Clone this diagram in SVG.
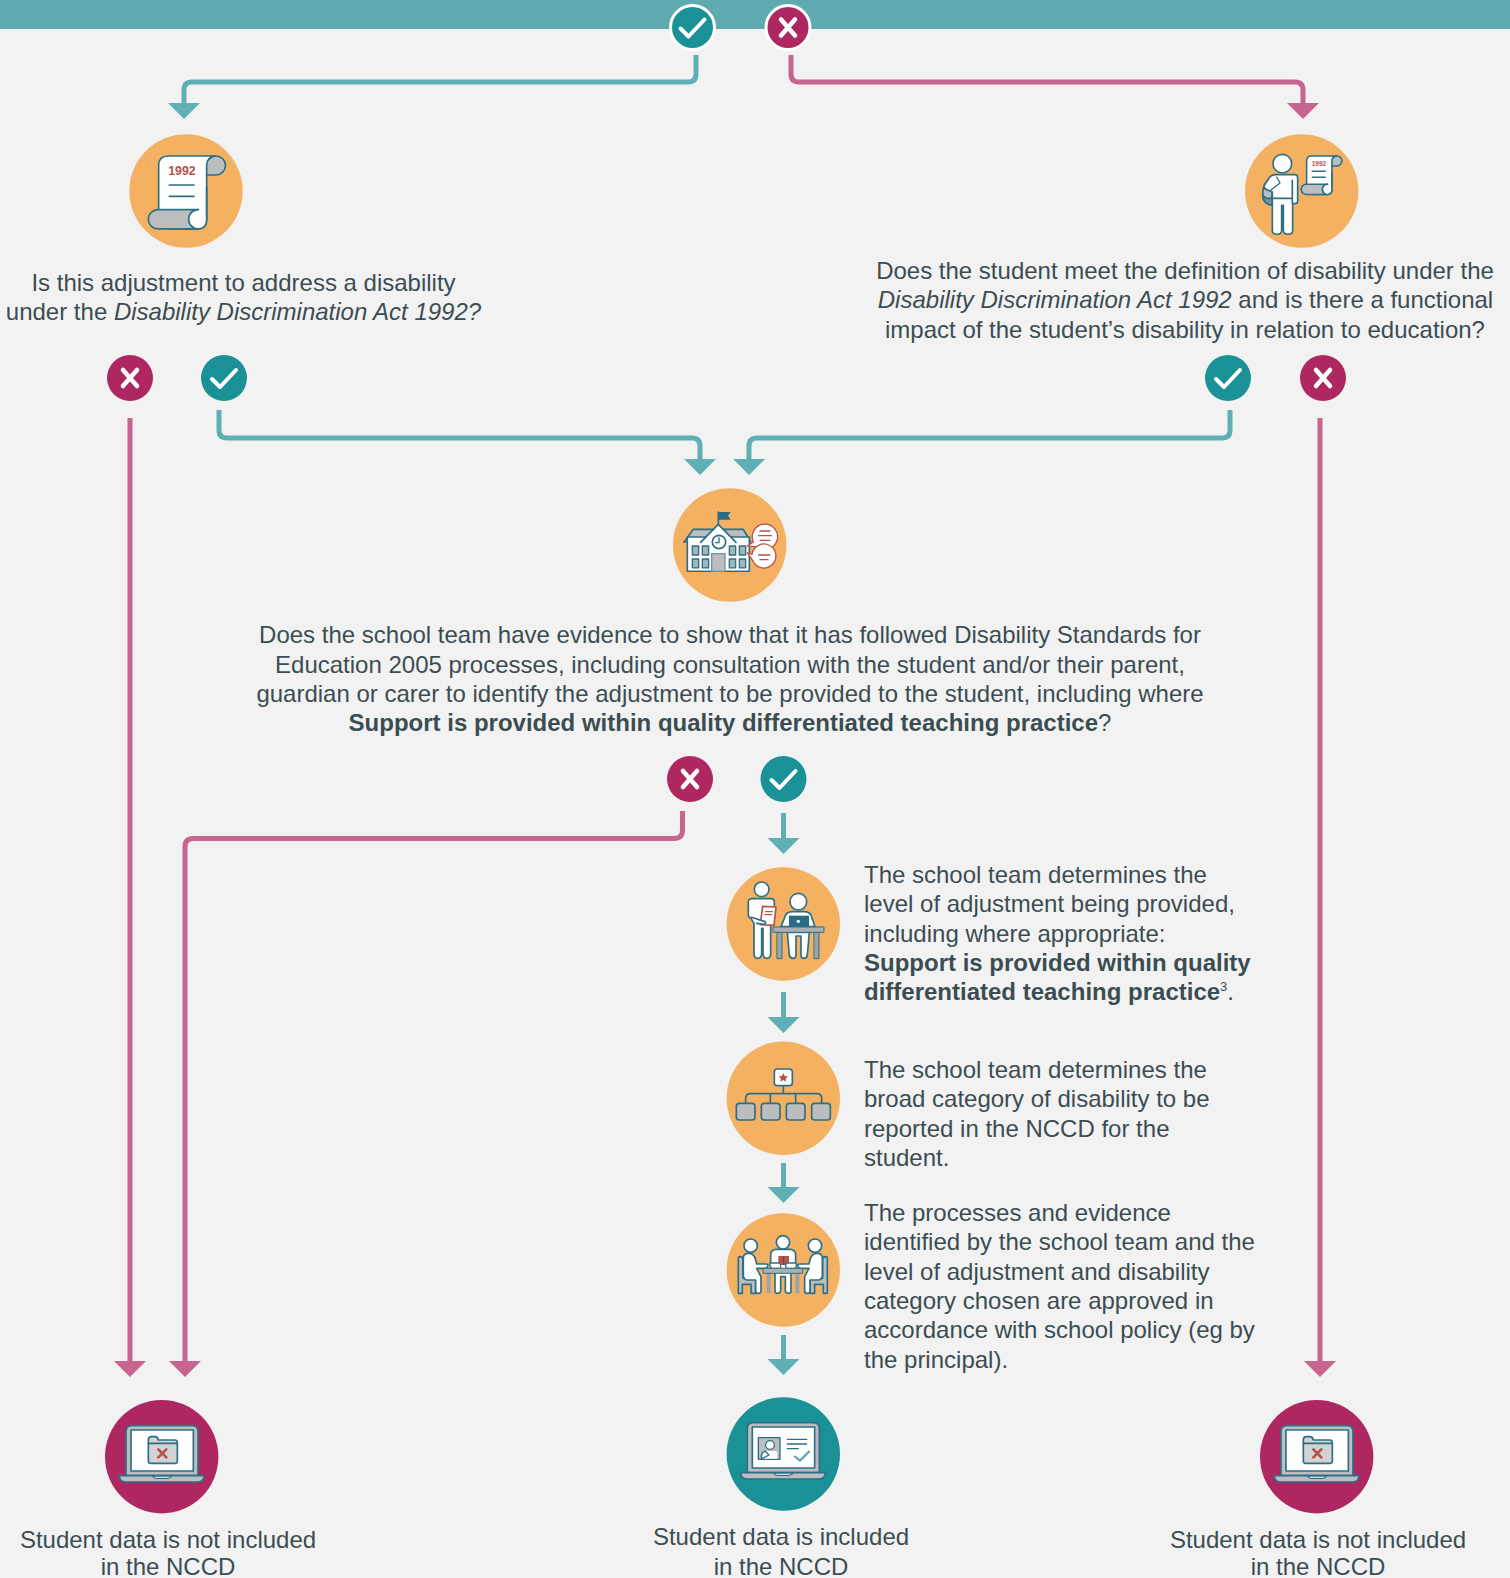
<svg xmlns="http://www.w3.org/2000/svg" width="1510" height="1578" viewBox="0 0 1510 1578">
<style>
text{font-family:"Liberation Sans",Arial,sans-serif;font-size:24px;fill:#3c4d52}
.m{text-anchor:middle}
.b{font-weight:700}
.i{font-style:italic}
.t{fill:none;stroke:#5fb0b5;stroke-width:5;stroke-linejoin:round}
.p{fill:none;stroke:#c8658f;stroke-width:5;stroke-linejoin:round}
.ah{fill:#5fb0b5}
.ahp{fill:#c8658f}
.o{fill:#f4b161}
.s{stroke:#2e6f86;stroke-width:5;stroke-linejoin:round;stroke-linecap:round}
.si{stroke:#2e6f86;stroke-linejoin:round;stroke-linecap:round}
.w{fill:#fff}
.g{fill:#bbbdbf}
.d{fill:#2a6a84}
.n{fill:none}
.r{stroke:#b8514a;stroke-width:5;stroke-linecap:round;fill:none}
.bt{fill:#1a9196}
.bx{fill:#ae2760}
.gl{fill:none;stroke:#fff;stroke-width:4;stroke-linecap:round;stroke-linejoin:round}
.gx{fill:none;stroke:#fff;stroke-width:4.500;stroke-linecap:round}
.yr{font-family:"Liberation Sans",Arial,sans-serif;font-weight:700;font-size:37px;fill:#b8514a;text-anchor:middle}
</style>
<defs>
<g id="okb"><circle r="23" class="bt"/><path d="M-12,1 L-4,9 L12,-8" class="gl"/></g>
<g id="nob"><circle r="23" class="bx"/><path d="M-7,-8 L7,8 M7,-8 L-7,8" class="gx"/></g>
<path id="ahd" d="M-16,0 H16 L0,16 Z"/>
<g id="scroll">
<path d="M310,107 H318 A28.500,28.500 0 0 1 318,164 H285 V125 Z" class="g si"/>
<path d="M175,107 H315 Q290,110 290,135 V298 Q290,326 265,326 H180 L146,268 V135 Q146,107 175,107 Z" class="w si"/>
<path d="M144,268 H265 A29,29 0 0 0 265,326 H144 A29,29 0 0 1 144,268 Z" class="g si"/>
<path d="M265,268 A29,29 0 0 0 265,326 Q290,326 290,298 V285 H270 Z" class="w"/>
<path d="M265,268 A29,29 0 0 0 265,326 Q290,326 290,298 V200" class="si n"/>
<path d="M178,194 H252 M178,228 H252" class="si n"/>
</g>
<g id="lap">
<path d="M93,257 V125 Q93,107 111,107 H291 Q309,107 309,125 V257 Z" class="g s"/>
<rect x="108" y="120" width="187" height="123" class="w s"/>
<path d="M73,257 H327 Q327,276 305,276 H95 Q73,276 73,257 Z" class="g s"/>
<path d="M172,258 H230 Q226,265 218,265 H184 Q176,265 172,258 Z" class="w s" style="stroke-width:4"/>
</g>
<g id="folder">
<path d="M160,150 Q160,140 170,140 H180 Q188,140 190,150 H240 Q247,150 247,158 V213 Q247,220 240,220 H167 Q160,220 160,213 Z" style="fill:#d1d3d4" class="s"/>
<path d="M160,160 H247" class="s n"/>
<path d="M190,178 L214,202 M214,178 L190,202" class="r" style="stroke-width:8"/>
</g>
<g id="seat">
<path d="M70,160 Q70,155 76,155 Q84,155 84,165 V220 H122 V265 H108 V238 H82 V265 H70 Z" class="g s"/>
<circle cx="107" cy="122" r="20" class="w s"/>
<path d="M85,160 Q85,145 100,145 Q118,145 122,165 L125,177 H153 Q160,177 158,184 Q156,190 150,190 H125 L138,215 V258 Q138,265 130,265 Q122,265 122,258 V225 H95 Q85,222 85,210 Z" class="w s"/>
</g>
</defs>
<rect width="1510" height="1578" fill="#f2f2f2"/>
<rect id="header" width="1510" height="29" fill="#5fabb0"/>

<g id="connectors">
<path class="t" d="M696,55 V74 Q696,82 688,82 H192 Q184,82 184,90 V106"/><use href="#ahd" class="ah" x="184" y="103"/>
<path class="p" d="M791,55 V74 Q791,82 799,82 H1295 Q1303,82 1303,90 V106"/><use href="#ahd" class="ahp" x="1303" y="103"/>
<path class="t" d="M219,410 V430 Q219,438 227,438 H692 Q700,438 700,446 V462"/><use href="#ahd" class="ah" x="700" y="459"/>
<path class="t" d="M1230,410 V430 Q1230,438 1222,438 H757 Q749,438 749,446 V462"/><use href="#ahd" class="ah" x="749" y="459"/>
<path class="p" d="M130,418 V1365"/><use href="#ahd" class="ahp" x="130" y="1361"/>
<path class="p" d="M682.500,811 V830 Q682.500,838.500 674,838.500 H193 Q185,838.500 185,847 V1365"/><use href="#ahd" class="ahp" x="185" y="1361"/>
<path class="p" d="M1320,418 V1365"/><use href="#ahd" class="ahp" x="1320" y="1361"/>
<path class="t" d="M783.500,813 V840"/><use href="#ahd" class="ah" x="783.500" y="838"/>
<path class="t" d="M783.500,992 V1019"/><use href="#ahd" class="ah" x="783.500" y="1017"/>
<path class="t" d="M783.500,1163 V1189"/><use href="#ahd" class="ah" x="783.500" y="1187"/>
<path class="t" d="M783.500,1335 V1361"/><use href="#ahd" class="ah" x="783.500" y="1359"/>
</g>

<g id="q0-yes"><circle cx="692.500" cy="27.500" r="22" class="bt" stroke="#fff" stroke-width="3"/><path transform="translate(692.500 27.500)" d="M-12,1 L-4,9 L12,-8" class="gl"/></g>
<g id="q0-no"><circle cx="788" cy="27.500" r="22" class="bx" stroke="#fff" stroke-width="3"/><path transform="translate(788 27.500)" d="M-7,-8 L7,8 M7,-8 L-7,8" class="gx"/></g>

<g id="node-act">
<circle cx="186" cy="191" r="56.700" class="o"/>
<g transform="translate(110 120.300) scale(.3333)" stroke-width="5"><use href="#scroll"/><text class="yr" x="216" y="165">1992</text></g>
<text class="m" x="243.500" y="291">Is this adjustment to address a disability</text>
<text class="m" x="243.500" y="320">under the <tspan class="i">Disability Discrimination Act 1992?</tspan></text>
</g>

<g id="node-student">
<circle cx="1301.700" cy="191" r="56.700" class="o"/>
<g transform="translate(1230 120.300) scale(.3333)">
<g transform="translate(153 50.600) scale(.527)" stroke-width="9"><use href="#scroll"/><text class="yr" x="216" y="165">1992</text></g>
<path d="M125,170 Q98,185 98,225 Q100,252 127,255 Z" class="g s"/>
<path d="M98,225 Q110,240 127,232 V255 Q100,252 98,225 Z" class="s" style="fill:#6d95a3"/>
<path d="M127,235 V330 Q127,342 141,342 Q155,342 155,330 V255 H160 V330 Q160,342 174,342 Q188,342 188,330 V250 H195 Q203,250 203,242 V172 Q203,163 195,163 H135 Q125,163 118,172 L103,195 Q100,205 110,208 L127,215 Z" class="w s"/>
<path d="M127,234 H187 M187,180 V250" class="s n"/>
<path d="M140,170 L150,188 L122,210" class="s n" style="stroke-width:4"/>
<circle cx="157" cy="130" r="28" class="w s"/>
</g>
<text class="m" x="1185" y="279">Does the student meet the definition of disability under the</text>
<text class="m" x="1185.500" y="308"><tspan class="i">Disability Discrimination Act 1992</tspan> and is there a functional</text>
<text class="m" x="1185" y="338">impact of the student’s disability in relation to education?</text>
</g>

<g id="q1-no"><use href="#nob" x="130" y="378"/></g>
<g id="q1-yes"><use href="#okb" x="224" y="378"/></g>
<g id="q2-yes"><use href="#okb" x="1228" y="378"/></g>
<g id="q2-no"><use href="#nob" x="1323" y="378"/></g>

<g id="node-school">
<circle cx="729.700" cy="545" r="56.700" class="o"/>
<g transform="translate(660 480.300) scale(.3333)">
<path d="M175,135 V95" class="s n"/>
<path d="M175,95 H212 L204,106 L212,118 H175 Z" class="d"/>
<path d="M72,185 L100,147 H250 L272,185 Z" class="g s"/>
<rect x="82" y="170" width="186" height="103" class="w s"/>
<path d="M122,186 L175,132 L228,186 Z" class="w"/>
<path d="M122,186 L175,132 L228,186" class="s n"/>
<circle cx="177" cy="185" r="20" class="w s"/>
<path d="M177,172 V187 H167" class="s n" style="stroke-width:4"/>
<g class="s" style="fill:#9fb6bd;stroke-width:4">
<rect x="97" y="197" width="19" height="27"/><rect x="127" y="197" width="19" height="27"/><rect x="208" y="197" width="19" height="27"/><rect x="238" y="197" width="19" height="27"/>
<rect x="97" y="236" width="19" height="27"/><rect x="127" y="236" width="19" height="27"/><rect x="208" y="236" width="19" height="27"/><rect x="238" y="236" width="19" height="27"/>
</g>
<rect x="155" y="220" width="40" height="53" class="g" stroke="#6d95a3" stroke-width="4"/>
<path d="M262,197 L280,185 A38,38 0 1 1 292,200 Z" class="w" stroke="#b8514a" stroke-width="4" stroke-linejoin="round"/>
<path d="M262,218 L276,222 A36,36 0 1 1 278,240 Z" class="w" stroke="#b8514a" stroke-width="4" stroke-linejoin="round"/>
<path d="M300,152 H330 M296,166 H334 M300,180 H330 M296,224 H330 M300,238 H324" class="r" style="stroke-width:4"/>
</g>
<text class="m" x="730" y="643">Does the school team have evidence to show that it has followed Disability Standards for</text>
<text class="m" x="730" y="673">Education 2005 processes, including consultation with the student and/or their parent,</text>
<text class="m" x="730" y="702">guardian or carer to identify the adjustment to be provided to the student, including where</text>
<text class="m" x="730" y="731"><tspan class="b">Support is provided within quality differentiated teaching practice</tspan>?</text>
</g>

<g id="q3-no"><use href="#nob" x="690" y="779"/></g>
<g id="q3-yes"><use href="#okb" x="783.500" y="779"/></g>

<g id="node-level">
<circle cx="783.300" cy="924" r="56.700" class="o"/>
<g transform="translate(715 860) scale(.3333)">
<circle cx="140" cy="88" r="22" class="w s"/>
<path d="M117,190 V280 Q117,295 128,295 Q140,295 140,280 V205 H144 V280 Q144,295 156,295 Q167,295 167,280 V190 L178,180 V125 Q178,116 168,116 H112 Q100,116 100,125 V165 Q100,172 108,175 Z" class="w s"/>
<path d="M143,139 L183,141 L177,196 L136,194 Z" class="w" stroke="#b8514a" stroke-width="5" stroke-linejoin="round"/>
<path d="M152,155 H172 M150,164 H170" class="r" style="stroke-width:4"/>
<path d="M110,172 L150,185 Q155,190 148,193 L125,190" class="w s"/>
<circle cx="250" cy="125" r="25" class="w s"/>
<path d="M198,200 L212,165 Q218,155 232,155 H268 Q282,155 288,165 L300,200 Z" class="w s"/>
<rect x="222" y="167" width="60" height="34" class="d"/>
<circle cx="250" cy="184" r="5" class="w"/>
<path d="M187,217 H201 V296 H187 Z M298,217 H312 V296 H298 Z" class="s" style="fill:#9aa5a9;stroke-width:3"/>
<path d="M217,217 H283 L277,285 Q275,295 267,295 Q258,295 258,285 V228 H243 V285 Q243,295 234,295 Q225,295 223,285 Z" class="w s"/>
<rect x="175" y="201" width="152" height="16" class="s" style="stroke-width:3;fill:#a9afb2"/>
</g>
<text x="864" y="883">The school team determines the</text>
<text x="864" y="912">level of adjustment being provided,</text>
<text x="864" y="942">including where appropriate:</text>
<text x="864" y="971" class="b">Support is provided within quality</text>
<text x="864" y="1000"><tspan class="b">differentiated teaching practice</tspan><tspan style="font-size:13px" dy="-9">3</tspan><tspan dy="9">.</tspan></text>
</g>

<g id="node-category">
<circle cx="783.300" cy="1098.300" r="56.700" class="o"/>
<g transform="translate(715 1035) scale(.3333)">
<path d="M205,152 V176 M92,205 V190 Q92,176 106,176 H306 Q320,176 320,190 V205 M166,176 V205 M242,176 V205" class="s n"/>
<rect x="178" y="102" width="54" height="50" rx="9" class="w s"/>
<path d="M205,114 L209,123 L219,124 L212,131 L214,140 L205,135 L196,140 L198,131 L191,124 L201,123 Z" fill="#b8514a"/>
<rect x="64" y="205" width="56" height="50" rx="9" class="g s"/>
<rect x="139" y="205" width="56" height="50" rx="9" class="g s"/>
<rect x="214" y="205" width="56" height="50" rx="9" class="g s"/>
<rect x="290" y="205" width="56" height="50" rx="9" class="g s"/>
</g>
<text x="864" y="1078">The school team determines the</text>
<text x="864" y="1107">broad category of disability to be</text>
<text x="864" y="1137">reported in the NCCD for the</text>
<text x="864" y="1166">student.</text>
</g>

<g id="node-approve">
<circle cx="783.300" cy="1270" r="56.700" class="o"/>
<g transform="translate(715 1205) scale(.3333)">
<use href="#seat"/>
<use href="#seat" transform="translate(407 0) scale(-1 1)"/>
<circle cx="204" cy="112" r="20" class="w s"/>
<path d="M180,190 V258 Q180,265 188,265 Q196,265 197,258 V215 H211 V258 Q212,265 220,265 Q228,265 228,258 V190 H242 V150 Q242,133 225,133 H184 Q167,133 167,150 V190 Z" class="w s"/>
<rect x="190" y="153" width="32" height="27" fill="#b8514a"/>
<path d="M206,153 V180" fill="none" stroke="#7a3a36" stroke-width="3"/>
<path d="M165,174 H195 Q199,187 195,190 H170 Q163,185 165,174 Z M214,174 H243 Q247,185 240,190 H214 Q210,187 214,174 Z" class="w s" style="stroke-width:4"/>
<path d="M155,205 H167 V265 H155 Z M241,205 H253 V265 H241 Z" style="fill:#9aa5a9"/>
<rect x="145" y="190" width="118" height="15" class="s" style="fill:#a9afb2;stroke-width:3"/>
</g>
<text x="864" y="1221">The processes and evidence</text>
<text x="864" y="1250">identified by the school team and the</text>
<text x="864" y="1279.500">level of adjustment and disability</text>
<text x="864" y="1309">category chosen are approved in</text>
<text x="864" y="1338">accordance with school policy (eg by</text>
<text x="864" y="1368">the principal).</text>
</g>

<g id="node-out-left">
<circle cx="161.700" cy="1456.700" r="56.700" class="bx"/>
<g transform="translate(95 1390) scale(.3333)"><use href="#lap"/><use href="#folder"/></g>
<text class="m" x="168" y="1548">Student data is not included</text>
<text class="m" x="168" y="1575">in the NCCD</text>
</g>

<g id="node-out-mid">
<circle cx="783.300" cy="1454" r="56.700" class="bt"/>
<g transform="translate(715 1390) scale(.3333)">
<g transform="translate(4 -9)"><use href="#lap"/></g>
<rect x="130" y="143" width="65" height="65" class="g s" style="stroke-width:4"/>
<circle cx="165" cy="165" r="13" class="w s" style="stroke-width:4"/>
<path d="M140,206 Q136,190 150,183 H182 Q187,183 187,190 V206 Z" class="w"/>
<path d="M140,206 Q136,190 150,183 L162,195 Z" class="n s" style="stroke-width:4"/>
<path d="M217,148 H275 M217,162 H275 M217,176 H250" class="s n" style="stroke-width:4"/>
<path d="M240,200 L255,212 L282,185" fill="none" stroke="#5fabb0" stroke-width="7" stroke-linecap="round" stroke-linejoin="round"/>
</g>
<text class="m" x="781" y="1545">Student data is included</text>
<text class="m" x="781" y="1575">in the NCCD</text>
</g>

<g id="node-out-right">
<circle cx="1316.700" cy="1456.700" r="56.700" class="bx"/>
<g transform="translate(1250 1390) scale(.3333)"><use href="#lap"/><use href="#folder"/></g>
<text class="m" x="1318" y="1548">Student data is not included</text>
<text class="m" x="1318" y="1575">in the NCCD</text>
</g>
</svg>
